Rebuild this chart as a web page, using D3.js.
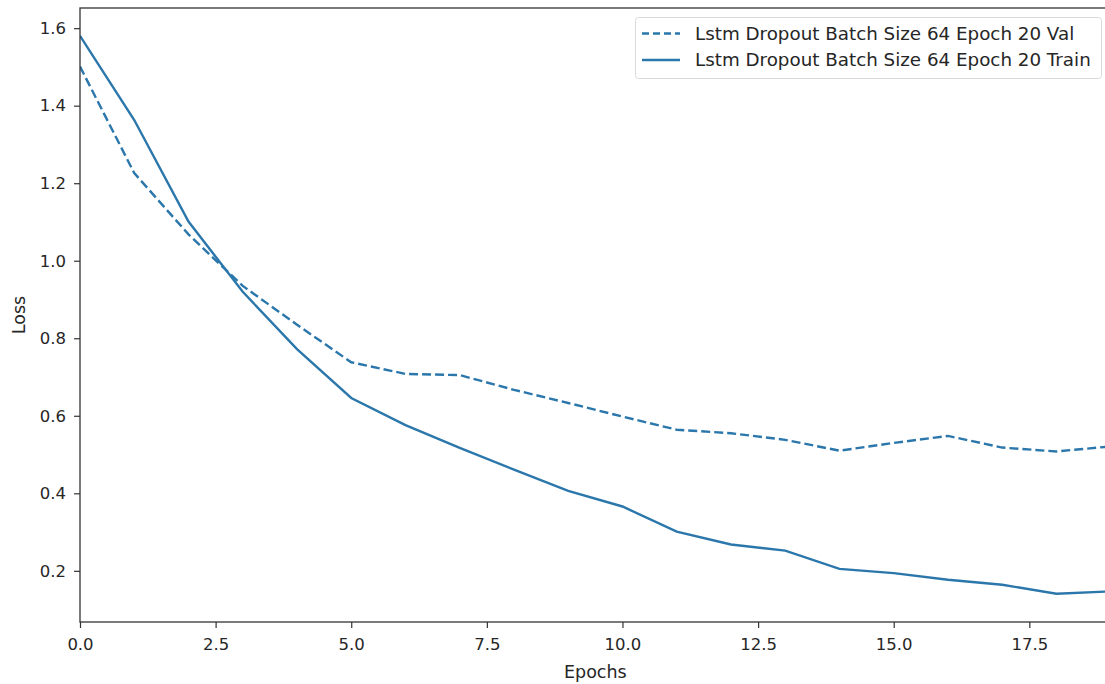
<!DOCTYPE html>
<html>
<head>
<meta charset="utf-8">
<script src="https://cdn.jsdelivr.net/npm/d3@7"></script>
<style>
  html, body { margin: 0; padding: 0; background: #fff; }
  svg { display: block; font-family: "DejaVu Sans", sans-serif; }
</style>
</head>
<body>
<svg id="chart" width="1105" height="684"></svg>
<script>
const epochs = [0,1,2,3,4,5,6,7,8,9,10,11,12,13,14,15,16,17,18,19];
const valLoss = [1.501,1.226,1.068,0.935,0.835,0.738,0.708,0.705,0.667,0.633,0.598,0.564,0.555,0.538,0.510,0.530,0.548,0.518,0.508,0.521];
const trainLoss = [1.580,1.363,1.101,0.920,0.772,0.646,0.576,0.517,0.461,0.406,0.366,0.301,0.268,0.252,0.205,0.194,0.177,0.164,0.141,0.147];
const xTicks = [0,2.5,5,7.5,10,12.5,15,17.5];
const yTicks = [0.2,0.4,0.6,0.8,1.0,1.2,1.4,1.6];
const seriesNames = ["Lstm Dropout Batch Size 64 Epoch 20 Val", "Lstm Dropout Batch Size 64 Epoch 20 Train"];

(function () {
const svg = d3.select("#chart");
const pL = 80, pR = 1110.7, pT = 8, pB = 622;
const color = "#2b77ab";
const textColor = "#262626";

const x = d3.scaleLinear().domain([0, 19]).range([pL, pR]);
const y = d3.scaleLinear().domain([0.068, 1.652]).range([pB, pT]);

svg.append("defs").append("clipPath").attr("id", "clip")
  .append("rect").attr("x", pL).attr("y", pT).attr("width", pR - pL).attr("height", pB - pT);

const line = d3.line().x((d, i) => x(epochs[i])).y(d => y(d));

const g = svg.append("g").attr("clip-path", "url(#clip)");
g.append("path").datum(valLoss).attr("d", line)
  .attr("fill", "none").attr("stroke", color).attr("stroke-width", 2.4)
  .attr("stroke-dasharray", "9,4");
g.append("path").datum(trainLoss).attr("d", line)
  .attr("fill", "none").attr("stroke", color).attr("stroke-width", 2.4);

const xAxis = d3.axisBottom(x).tickValues(xTicks).tickFormat(d3.format(".1f")).tickSizeOuter(0).tickSize(6).tickPadding(10);
const yAxis = d3.axisLeft(y).tickValues(yTicks).tickFormat(d3.format(".1f")).tickSizeOuter(0).tickSize(6).tickPadding(8);

const gx = svg.append("g").attr("transform", `translate(0,${pB})`).call(xAxis);
const gy = svg.append("g").attr("transform", `translate(${pL},0)`).call(yAxis);
[gx, gy].forEach(a => {
  a.select(".domain").remove();
  a.selectAll(".tick line").attr("stroke", "#333").attr("stroke-width", 1.2);
  a.selectAll(".tick text").attr("fill", textColor).style("font-size", "16.5px").style("font-family", "DejaVu Sans, sans-serif");
});
gx.selectAll(".tick text").attr("dy", "0.71em");

svg.append("rect").attr("x", pL).attr("y", pT).attr("width", pR - pL).attr("height", pB - pT)
  .attr("fill", "none").attr("stroke", "#333").attr("stroke-width", 1.3);

svg.append("text").attr("x", (pL + pR) / 2).attr("y", 678).attr("text-anchor", "middle")
  .attr("fill", textColor).style("font-size", "17.5px").text("Epochs");
svg.append("text").attr("transform", `translate(25,${(pT + pB) / 2}) rotate(-90)`).attr("text-anchor", "middle")
  .attr("fill", textColor).style("font-size", "17.5px").text("Loss");

const lg = svg.append("g");
lg.append("rect").attr("x", 635.5).attr("y", 17.5).attr("width", 466).attr("height", 61).attr("rx", 3)
  .attr("fill", "#fff").attr("fill-opacity", 0.8).attr("stroke", "#d9d9d9").attr("stroke-width", 1);
const rows = [{ y: 33.5, dash: "7,4" }, { y: 60, dash: null }];
rows.forEach((r, i) => {
  const l = lg.append("line").attr("x1", 642).attr("x2", 680).attr("y1", r.y).attr("y2", r.y)
    .attr("stroke", color).attr("stroke-width", 2.4);
  if (r.dash) l.attr("stroke-dasharray", r.dash);
  lg.append("text").attr("x", 695).attr("y", r.y).attr("dy", "0.35em")
    .attr("fill", textColor).style("font-size", "18.3px").text(seriesNames[i]);
});
})();
</script>
</body>
</html>
